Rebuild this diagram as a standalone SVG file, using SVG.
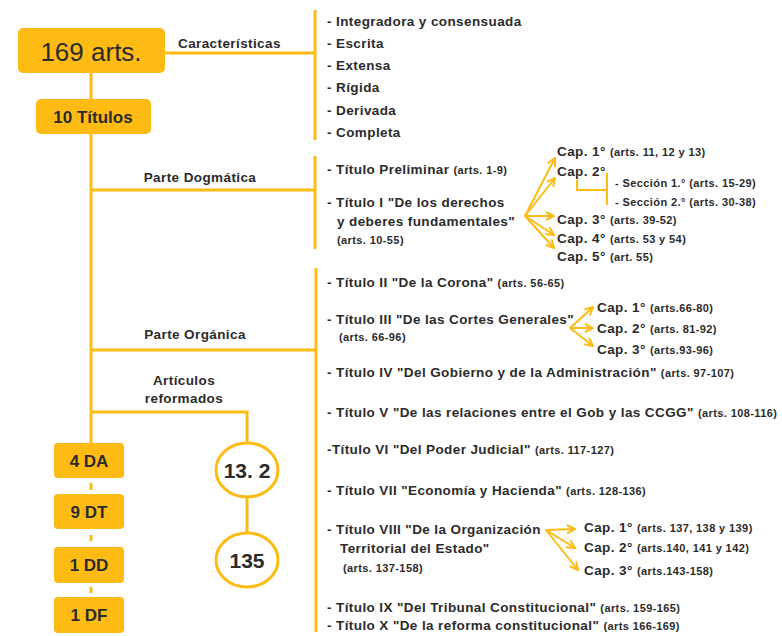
<svg xmlns="http://www.w3.org/2000/svg" width="782" height="636" viewBox="0 0 782 636">
<style>
.ln{stroke:#FDBB13;stroke-width:3;fill:none}
.ln2{stroke:#FDBB13;stroke-width:2;fill:none}
.ar{stroke:#FDBB13;stroke-width:2;fill:none;marker-end:url(#chev)}
.box{fill:#FDBB13}
.circ{fill:#fff;stroke:#FDBB13;stroke-width:3}
text{font-family:"Liberation Sans",Arial,sans-serif;font-weight:700;fill:#2b2b2b}
.t{font-size:13.5px;letter-spacing:0.4px}
.s{font-size:11px;letter-spacing:0.4px}
.h{font-size:13.5px;letter-spacing:0.4px;text-anchor:middle}
.big{font-size:26px;text-anchor:middle;font-weight:400}
.sm{font-size:17px;text-anchor:middle}
.cn{font-size:21px;text-anchor:middle}
</style>
<defs>
<marker id="chev" viewBox="0 0 10 10" refX="9" refY="5" markerWidth="10" markerHeight="10" markerUnits="userSpaceOnUse" orient="auto">
<path d="M1,1 L9,5 L1,9" fill="none" stroke="#FDBB13" stroke-width="2"/>
</marker>
</defs>
<rect width="782" height="636" fill="#fff"/>

<g id="connectors">
<path class="ln" d="M165,53 H315"/>
<path class="ln" d="M315,10 V140"/>
<path class="ln" d="M91,73 V99"/>
<path class="ln" d="M91,134 V443"/>
<path class="ln" d="M91,190 H315"/>
<path class="ln" d="M315,156 V249"/>
<path class="ln" d="M91,350 H316"/>
<path class="ln" d="M316,268 V632"/>
<path class="ln" d="M91,412 H247 V443"/>
<path class="ln" d="M247,498 V532"/>
<path class="ln" d="M91,483 V490 M91,535 V541 M91,587 V593"/>
<path class="ln2" d="M577,180 V190 H607 M607,173 V205"/>
<path class="ar" d="M525,216 L555,158"/>
<path class="ar" d="M525,216 L555,178"/>
<path class="ar" d="M525,216 L554,216"/>
<path class="ar" d="M525,216 L554,235"/>
<path class="ar" d="M525,216 L554,248"/>
<path class="ar" d="M570,328 L593,307"/>
<path class="ar" d="M570,328 L593,328"/>
<path class="ar" d="M570,328 L593,346"/>
<path class="ar" d="M546,530 L575,529"/>
<path class="ar" d="M546,530 L575,548"/>
<path class="ar" d="M546,530 L578,570"/>
</g>

<g id="n169"><rect class="box" x="18" y="28" width="147" height="45" rx="5"/><text class="big" x="91" y="61">169 arts.</text></g>
<g id="n10titulos"><rect class="box" x="36" y="99" width="115" height="35" rx="5"/><text class="sm" x="93" y="123">10 Títulos</text></g>
<g id="lblCaract"><text class="t" x="178" y="48">Características</text></g>
<g id="caract">
<text class="t" x="327" y="26">- Integradora y consensuada</text>
<text class="t" x="327" y="48">- Escrita</text>
<text class="t" x="327" y="70">- Extensa</text>
<text class="t" x="327" y="92">- Rígida</text>
<text class="t" x="327" y="115">- Derivada</text>
<text class="t" x="327" y="137">- Completa</text>
</g>
<g id="lblDogm"><text class="h" x="200" y="182">Parte Dogmática</text></g>
<g id="lblOrg"><text class="h" x="195" y="339">Parte Orgánica</text></g>
<g id="lblReform"><text class="h" x="184" y="385">Artículos</text><text class="h" x="184" y="403">reformados</text></g>

<g id="dogm">
<text class="t" x="327" y="174">- Título Preliminar <tspan class="s">(arts. 1-9)</tspan></text>
<text class="t" x="327" y="207">- Título I "De los derechos</text>
<text class="t" x="337" y="226">y deberes fundamentales"</text>
<text class="s" x="337" y="244">(arts. 10-55)</text>
</g>
<g id="dogmCaps">
<text class="t" x="557" y="156">Cap. 1° <tspan class="s">(arts. 11, 12 y 13)</tspan></text>
<text class="t" x="557" y="176">Cap. 2°</text>
<text class="s" x="615" y="187">- Sección 1.° (arts. 15-29)</text>
<text class="s" x="615" y="206">- Sección 2.° (arts. 30-38)</text>
<text class="t" x="557" y="224">Cap. 3° <tspan class="s">(arts. 39-52)</tspan></text>
<text class="t" x="557" y="243">Cap. 4° <tspan class="s">(arts. 53 y 54)</tspan></text>
<text class="t" x="557" y="261">Cap. 5° <tspan class="s">(art. 55)</tspan></text>
</g>

<g id="org">
<text class="t" x="327" y="287">- Título II "De la Corona" <tspan class="s">(arts. 56-65)</tspan></text>
<text class="t" x="327" y="324">- Título III "De las Cortes Generales"</text>
<text class="s" x="339" y="341">(arts. 66-96)</text>
<text class="t" x="597" y="312">Cap. 1° <tspan class="s">(arts.66-80)</tspan></text>
<text class="t" x="597" y="333">Cap. 2° <tspan class="s">(arts. 81-92)</tspan></text>
<text class="t" x="597" y="354">Cap. 3° <tspan class="s">(arts.93-96)</tspan></text>
<text class="t" x="327" y="377">- Título IV "Del Gobierno y de la Administración" <tspan class="s">(arts. 97-107)</tspan></text>
<text class="t" x="327" y="417">- Título V "De las relaciones entre el Gob y las CCGG" <tspan class="s">(arts. 108-116)</tspan></text>
<text class="t" x="327" y="454">-Título VI "Del Poder Judicial" <tspan class="s">(arts. 117-127)</tspan></text>
<text class="t" x="327" y="495">- Título VII "Economía y Hacienda" <tspan class="s">(arts. 128-136)</tspan></text>
<text class="t" x="327" y="534">- Título VIII "De la Organización</text>
<text class="t" x="340" y="553">Territorial del Estado"</text>
<text class="s" x="343" y="572">(arts. 137-158)</text>
<text class="t" x="584" y="532">Cap. 1° <tspan class="s">(arts. 137, 138 y 139)</tspan></text>
<text class="t" x="584" y="552">Cap. 2° <tspan class="s">(arts.140, 141 y 142)</tspan></text>
<text class="t" x="584" y="575">Cap. 3° <tspan class="s">(arts.143-158)</tspan></text>
<text class="t" x="327" y="612">- Título IX "Del Tribunal Constitucional" <tspan class="s">(arts. 159-165)</tspan></text>
<text class="t" x="327" y="630">- Título X "De la reforma constitucional" <tspan class="s">(arts 166-169)</tspan></text>
</g>

<g id="c132"><ellipse class="circ" cx="247" cy="470" rx="31" ry="27"/><text class="cn" x="247" y="478">13. 2</text></g>
<g id="c135"><ellipse class="circ" cx="247" cy="560" rx="31" ry="27"/><text class="cn" x="247" y="568">135</text></g>

<g id="n4da"><rect class="box" x="54" y="443" width="70" height="35" rx="4"/><text class="sm" x="89" y="467">4 DA</text></g>
<g id="n9dt"><rect class="box" x="54" y="494" width="70" height="35" rx="4"/><text class="sm" x="89" y="518">9 DT</text></g>
<g id="n1dd"><rect class="box" x="54" y="547" width="70" height="36" rx="4"/><text class="sm" x="89" y="571">1 DD</text></g>
<g id="n1df"><rect class="box" x="54" y="597" width="70" height="36" rx="4"/><text class="sm" x="89" y="621">1 DF</text></g>
</svg>
